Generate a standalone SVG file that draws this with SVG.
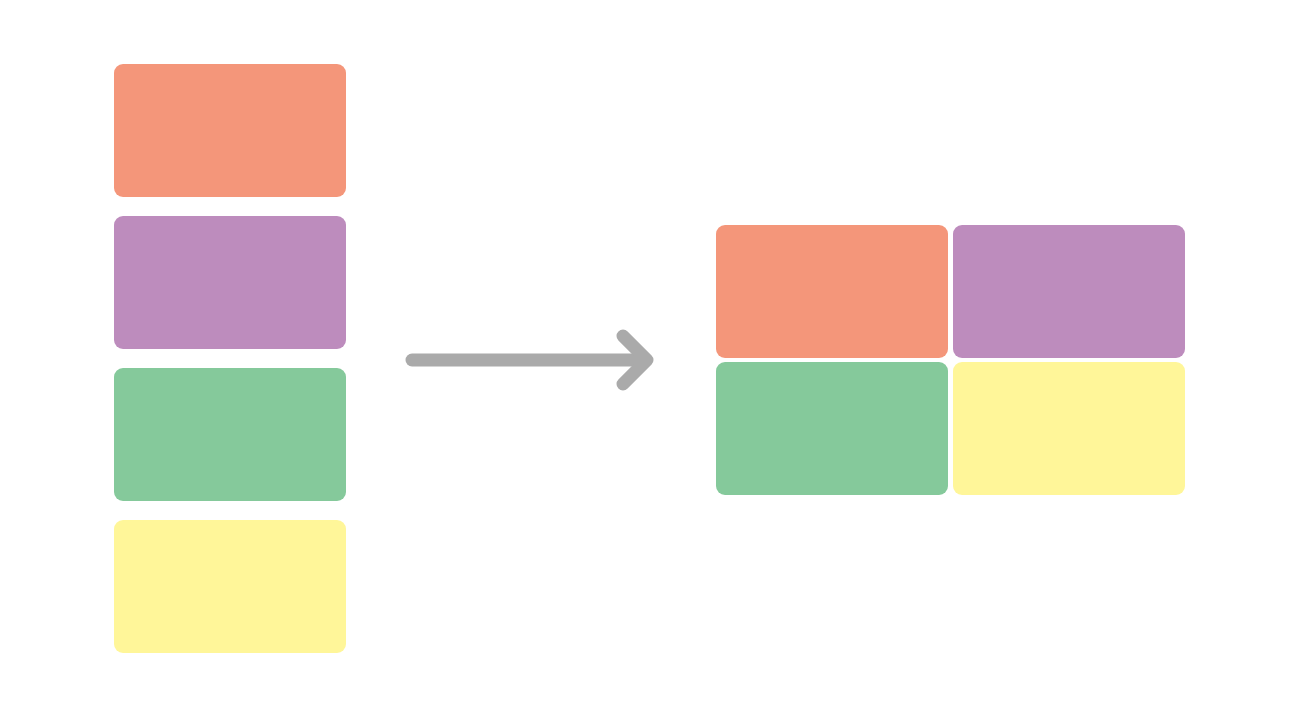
<svg xmlns="http://www.w3.org/2000/svg" width="1300" height="720" viewBox="0 0 1300 720">
<style>
.box{stroke:none}
.o{fill:#F4967A}.p{fill:#BD8CBD}.g{fill:#85C99B}.y{fill:#FFF699}
.arr{fill:none;stroke:#AAAAAA;stroke-width:13;stroke-linecap:round;stroke-linejoin:round}
</style>
<rect width="1300" height="720" fill="#FFFFFF"/>
<g id="left-orange"><rect class="box o" x="114" y="64" width="232" height="133" rx="9"/></g>
<g id="left-purple"><rect class="box p" x="114" y="216" width="232" height="133" rx="9"/></g>
<g id="left-green"><rect class="box g" x="114" y="368" width="232" height="133" rx="9"/></g>
<g id="left-yellow"><rect class="box y" x="114" y="520" width="232" height="133" rx="9"/></g>
<g id="right-orange"><rect class="box o" x="716" y="225" width="232" height="133" rx="9"/></g>
<g id="right-purple"><rect class="box p" x="953" y="225" width="232" height="133" rx="9"/></g>
<g id="right-green"><rect class="box g" x="716" y="362" width="232" height="133" rx="9"/></g>
<g id="right-yellow"><rect class="box y" x="953" y="362" width="232" height="133" rx="9"/></g>
<g id="connectors">
<line class="arr" x1="412" y1="360" x2="645" y2="360"/>
<polyline class="arr" points="623,336 647,360 623,384"/>
</g>
</svg>
